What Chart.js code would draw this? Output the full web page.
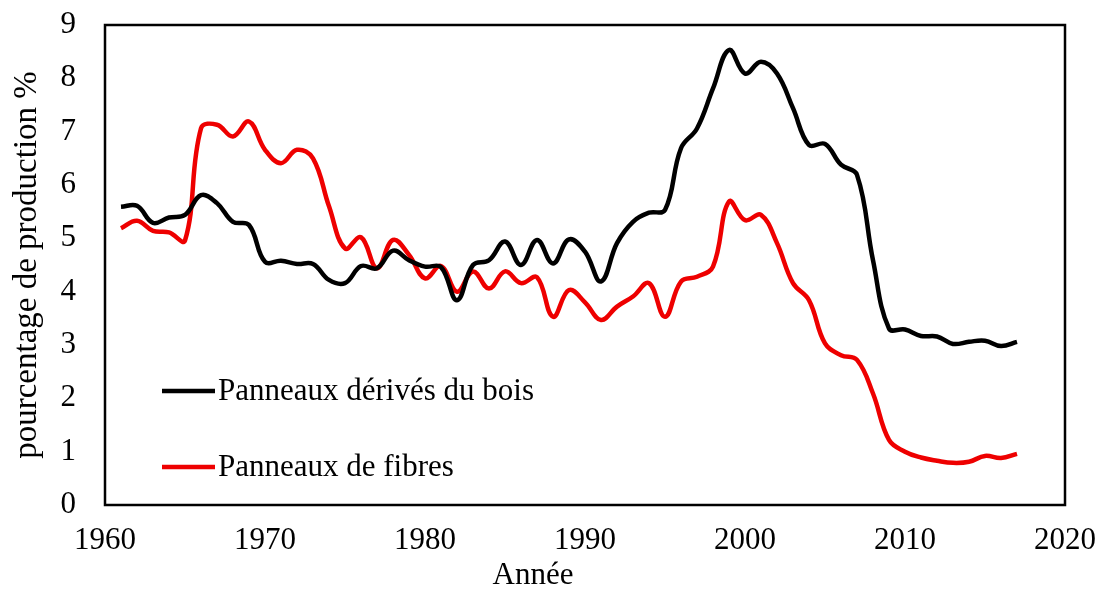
<!DOCTYPE html>
<html>
<head>
<meta charset="utf-8">
<script src="https://cdn.jsdelivr.net/npm/chart.js@4.4.1/dist/chart.umd.min.js"></script>
<style>
  body { margin: 0; background: #fff; }
  #wrap { width: 1101px; height: 590px; }
</style>
</head>
<body>
<div id="wrap"><canvas id="myChart"></canvas></div>
<script>
// values
const years = [1961, 1962, 1963, 1964, 1965, 1966, 1967, 1968, 1969, 1970,
    1971, 1972, 1973, 1974, 1975, 1976, 1977, 1978, 1979, 1980,
    1981, 1982, 1983, 1984, 1985, 1986, 1987, 1988, 1989, 1990,
    1991, 1992, 1993, 1994, 1995, 1996, 1997, 1998, 1999, 2000,
    2001, 2002, 2003, 2004, 2005, 2006, 2007, 2008, 2009, 2010,
    2011, 2012, 2013, 2014, 2015, 2016, 2017];

const woodPanels = [5.59, 5.61, 5.29, 5.39, 5.44, 5.81, 5.66, 5.31, 5.25, 4.56,
    4.58, 4.52, 4.52, 4.22, 4.16, 4.48, 4.44, 4.77, 4.59, 4.47,
    4.46, 3.84, 4.50, 4.59, 4.94, 4.50, 4.97, 4.53, 4.98, 4.75,
    4.19, 4.91, 5.31, 5.48, 5.53, 6.69, 7.06, 7.81, 8.53, 8.09,
    8.31, 8.09, 7.44, 6.75, 6.77, 6.38, 6.19, 4.59, 3.31, 3.29,
    3.17, 3.16, 3.02, 3.06, 3.08, 2.98, 3.06];

const fibrePanels = [5.19, 5.33, 5.14, 5.11, 4.96, 7.06, 7.13, 6.91, 7.19, 6.66,
    6.41, 6.66, 6.50, 5.60, 4.81, 5.02, 4.44, 4.97, 4.69, 4.25,
    4.48, 4.00, 4.38, 4.06, 4.38, 4.16, 4.27, 3.53, 4.03, 3.80,
    3.47, 3.72, 3.91, 4.16, 3.53, 4.19, 4.28, 4.47, 5.69, 5.34,
    5.44, 4.91, 4.16, 3.84, 3.03, 2.81, 2.72, 2.09, 1.22, 1.00,
    0.89, 0.83, 0.79, 0.81, 0.92, 0.88, 0.96];

const seriesNames = ['Panneaux dérivés du bois', 'Panneaux de fibres'];
const xTicks = [1960, 1970, 1980, 1990, 2000, 2010, 2020];
const yTicks = [0, 1, 2, 3, 4, 5, 6, 7, 8, 9];
const xTitle = 'Année';
const yTitle = 'pourcentage de production %';

const serif = "'Liberation Serif', 'Times New Roman', serif";

function toPoints(vals) {
    return years.map((yr, i) => ({ x: yr, y: vals[i] }));
}

// box round the plot, legend inside it, and the x title
const extras = {
    id: 'extras',
    afterDatasetsDraw(chart) {
        const ctx = chart.ctx;
        const a = chart.chartArea;
        ctx.save();
        ctx.strokeStyle = '#000';
        ctx.lineWidth = 2.5;
        ctx.strokeRect(a.left, a.top, a.right - a.left, a.bottom - a.top);

        // legend
        const rows = [391, 467];
        ctx.font = '31px ' + serif;
        ctx.textBaseline = 'middle';
        ctx.textAlign = 'left';
        chart.data.datasets.forEach((ds, i) => {
            ctx.strokeStyle = ds.borderColor;
            ctx.lineWidth = 4.5;
            ctx.beginPath();
            ctx.moveTo(162, rows[i]);
            ctx.lineTo(215, rows[i]);
            ctx.stroke();
            ctx.fillStyle = '#000';
            ctx.fillText(ds.label, 218, rows[i] + 1);
        });

        // x axis title
        ctx.textAlign = 'center';
        ctx.fillText(xTitle, 533, 576);
        ctx.restore();
    }
};

const ctx = document.getElementById('myChart');
new Chart(ctx, {
    type: 'line',
    data: {
        datasets: [{
            label: seriesNames[0],
            data: toPoints(woodPanels),
            borderColor: '#000000',
            borderWidth: 4.5,
            pointRadius: 0,
            tension: 0.4,
            fill: false
        }, {
            label: seriesNames[1],
            data: toPoints(fibrePanels),
            borderColor: '#ee0000',
            borderWidth: 4.5,
            pointRadius: 0,
            tension: 0.4,
            fill: false
        }]
    },
    options: {
        responsive: true,
        maintainAspectRatio: false,
        animation: false,
        layout: { padding: { top: 25, right: 36, left: 0, bottom: 0 } },
        plugins: {
            legend: { display: false },
            tooltip: { enabled: false }
        },
        scales: {
            x: {
                type: 'linear',
                min: xTicks[0],
                max: xTicks[xTicks.length - 1],
                afterBuildTicks: (scale) => { scale.ticks = xTicks.map(v => ({ value: v })); },
                afterFit: (scale) => { scale.height = 85; },
                // tick marks are hidden, their length only pushes the labels off the axis
                grid: { display: false, drawTicks: true, tickLength: 17 },
                border: { display: false },
                ticks: {
                    callback: (v) => String(v),
                    color: '#000',
                    padding: 0,
                    maxRotation: 0,
                    font: { family: serif, size: 31 }
                }
            },
            y: {
                min: yTicks[0],
                max: yTicks[yTicks.length - 1],
                afterBuildTicks: (scale) => { scale.ticks = yTicks.map(v => ({ value: v })); },
                afterFit: (scale) => { scale.width = 105; },
                grid: { display: false, drawTicks: true, tickLength: 29 },
                border: { display: false },
                ticks: {
                    color: '#000',
                    padding: 0,
                    font: { family: serif, size: 31 }
                },
                title: {
                    display: true,
                    text: yTitle,
                    color: '#000',
                    padding: { top: 8, bottom: 0 },
                    font: { family: serif, size: 33 }
                }
            }
        }
    },
    plugins: [extras]
});
</script>
</body>
</html>
